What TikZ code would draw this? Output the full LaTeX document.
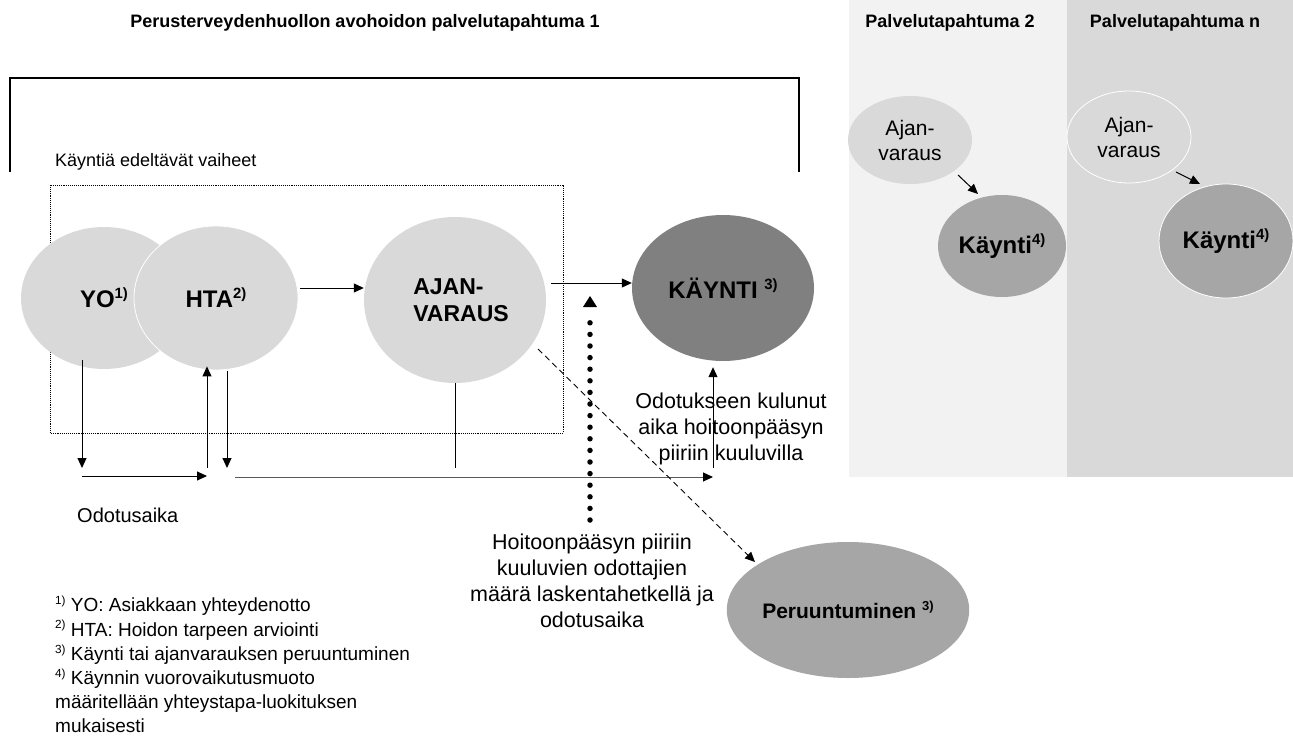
\documentclass[tikz,border=0pt]{standalone}
\usepackage{fontspec}
\setmainfont{Liberation Sans}
\usetikzlibrary{shapes.geometric,arrows.meta,calc}
\definecolor{lg}{HTML}{D9D9D9}
\definecolor{mg}{HTML}{A6A6A6}
\definecolor{dg}{HTML}{808080}
\definecolor{pg}{HTML}{F2F2F2}
\newcommand\supx[1]{\raisebox{0.38em}{\scalebox{0.62}{#1}}}
\newcommand\fsz[2]{\fontsize{#1}{#2}\selectfont}
\begin{document}
\begin{tikzpicture}[x=1pt,y=-1pt,
  blob/.style={ellipse, inner sep=0pt, align=center},
  bigbold/.style={font=\bfseries\fsz{24}{28}},
  ttl/.style={font=\bfseries\fsz{18}{22}, inner sep=0pt},
  arr/.style={-{Triangle[length=10pt,width=9pt]}, line width=1pt},
  plain/.style={line width=1pt},
  dashedarr/.style={-{Triangle[length=10pt,width=9pt]}, line width=0.9pt, dash pattern=on 6pt off 4pt},
  dotline/.style={line width=5.5pt, line cap=round, dash pattern=on 0pt off 11.6pt}]
\useasboundingbox (0,0) rectangle (1293,749);

% right panels
\fill[pg] (849,0) rectangle (1067,477);
\fill[lg] (1067,0) rectangle (1293,477);

% titles
\node[ttl] (t1) at (365,23) {Perusterveydenhuollon avohoidon palvelutapahtuma 1};
\node[ttl] (t2) at (950,23) {Palvelutapahtuma 2};
\node[ttl] (tn) at (1175,23) {Palvelutapahtuma n};

% frames
\draw[line width=1.2pt] (10,172) -- (10,78) -- (799,78) -- (799,172);
\draw[densely dotted, line width=0.9pt] (50,185) rectangle (563,433);
\node[anchor=west, inner sep=0pt, font=\fsz{18}{22}] (kev) at (55,162) {Käyntiä edeltävät vaiheet};

% main ellipses
\node[blob, fill=lg, minimum width=166pt, minimum height=142pt, bigbold] (yo) at (104,298) {YO\supx{1)}};
\node[blob, fill=lg, draw=white, line width=0.8pt, minimum width=164pt, minimum height=144pt, bigbold] (hta) at (216,298) {HTA\supx{2)}};
\node[blob, fill=lg, minimum width=182pt, minimum height=166pt,
  label={[xshift=6pt, align=left, inner sep=0pt, font=\bfseries\fsz{23}{27}]center:{AJAN-\\VARAUS}}] (ajan) at (455,300) {};
\node[blob, fill=dg, minimum width=182pt, minimum height=146pt, bigbold] (kay) at (723,288) {KÄYNTI \supx{3)}};
\node[blob, fill=mg, minimum width=198pt, minimum height=136pt, font=\bfseries\fsz{21}{25}] (peru) at (848,610) {Peruuntuminen \supx{3)}};

% panel ellipses
\node[blob, fill=lg, minimum width=124pt, minimum height=88pt, font=\fsz{21}{25}] (a2) at (910,140) {Ajan-\\varaus};
\node[blob, fill=mg, minimum width=128pt, minimum height=102pt, bigbold] (k2) at (1002,246) {Käynti\supx{4)}};
\node[blob, fill=lg, draw=white, line width=0.8pt, minimum width=124pt, minimum height=92pt, font=\fsz{21}{25}] (an) at (1129,137) {Ajan-\\varaus};
\node[blob, fill=mg, draw=white, line width=0.8pt, minimum width=134pt, minimum height=114pt, bigbold] (kn) at (1226,241) {Käynti\supx{4)}};

% texts
\node[anchor=west, inner sep=0pt, font=\fsz{20}{24}] (odo) at (77,515) {Odotusaika};
\node[align=center, inner sep=0pt, font=\fsz{21.5}{26}] (odk) at (731,429) {Odotukseen kulunut\\aika hoitoonpääsyn\\piiriin kuuluvilla};
\node[align=center, inner sep=0pt, font=\fsz{21.5}{26}] (hoi) at (592,581) {Hoitoonpääsyn piiriin\\kuuluvien odottajien\\määrä laskentahetkellä ja\\odotusaika};
\node[align=left, anchor=north west, inner sep=0pt, font=\fsz{19}{24.2}] (fn) at (55,596) {\supx{1)} YO: Asiakkaan yhteydenotto\\
\supx{2)} HTA: Hoidon tarpeen arviointi\\
\supx{3)} Käynti tai ajanvarauksen peruuntuminen\\
\supx{4)} Käynnin vuorovaikutusmuoto\\
määritellään yhteystapa-luokituksen\\
mukaisesti};

% coordinates
\coordinate (yoB) at (82,468);
\coordinate (jL) at (82,476);
\coordinate (jR) at (207,476);
\coordinate (htaUpS) at (207,468);
\coordinate (htaDnE) at (227,468);
\coordinate (lS) at (235,477);
\coordinate (lE) at (713,477);
\coordinate (ajB) at (455,468);
\coordinate (kayS) at (713,468);
\coordinate (dbot) at (590,520);
\coordinate (dtop) at (590,296);
\coordinate (h1) at ([shift={(2,-10)}]hta.east);
\coordinate (a1) at ([shift={(5,-17)}]ajan.east);

% connectors
\draw[arr] (h1) -- (h1 -| ajan.west);
\draw[arr] (a1) -- (a1 -| kay.west);
\draw[arr] ([shift={(-22,-9)}]yo.south) -- (yoB);
\draw[arr] (jL) -- (jR);
\draw[arr] (htaUpS) -- ([shift={(-9,-4)}]hta.south);
\draw[arr] ([shift={(11,1)}]hta.south) -- (htaDnE);
\draw[plain, draw=black!65, -{Triangle[length=10pt,width=9pt,color=black]}] (lS) -- (lE);
\draw[plain] (ajan.south) -- (ajB);
\draw[arr] (kayS) -- ([shift={(-10,6)}]kay.south);
\draw[dashedarr] ([shift={(83,49)}]ajan.center) -- ([shift={(-93,-48)}]peru.center);
\draw[dotline] (dbot) -- ($(dtop)+(0,17)$);
\fill (dtop) -- ++(-7,11) -- ++(14,0) -- cycle;
\draw[arr] ([shift={(48,35)}]a2.center) -- ([shift={(-24,-52)}]k2.center);
\draw[arr] ([shift={(47,35)}]an.center) -- ([shift={(-26,-57)}]kn.center);
\end{tikzpicture}
\end{document}
